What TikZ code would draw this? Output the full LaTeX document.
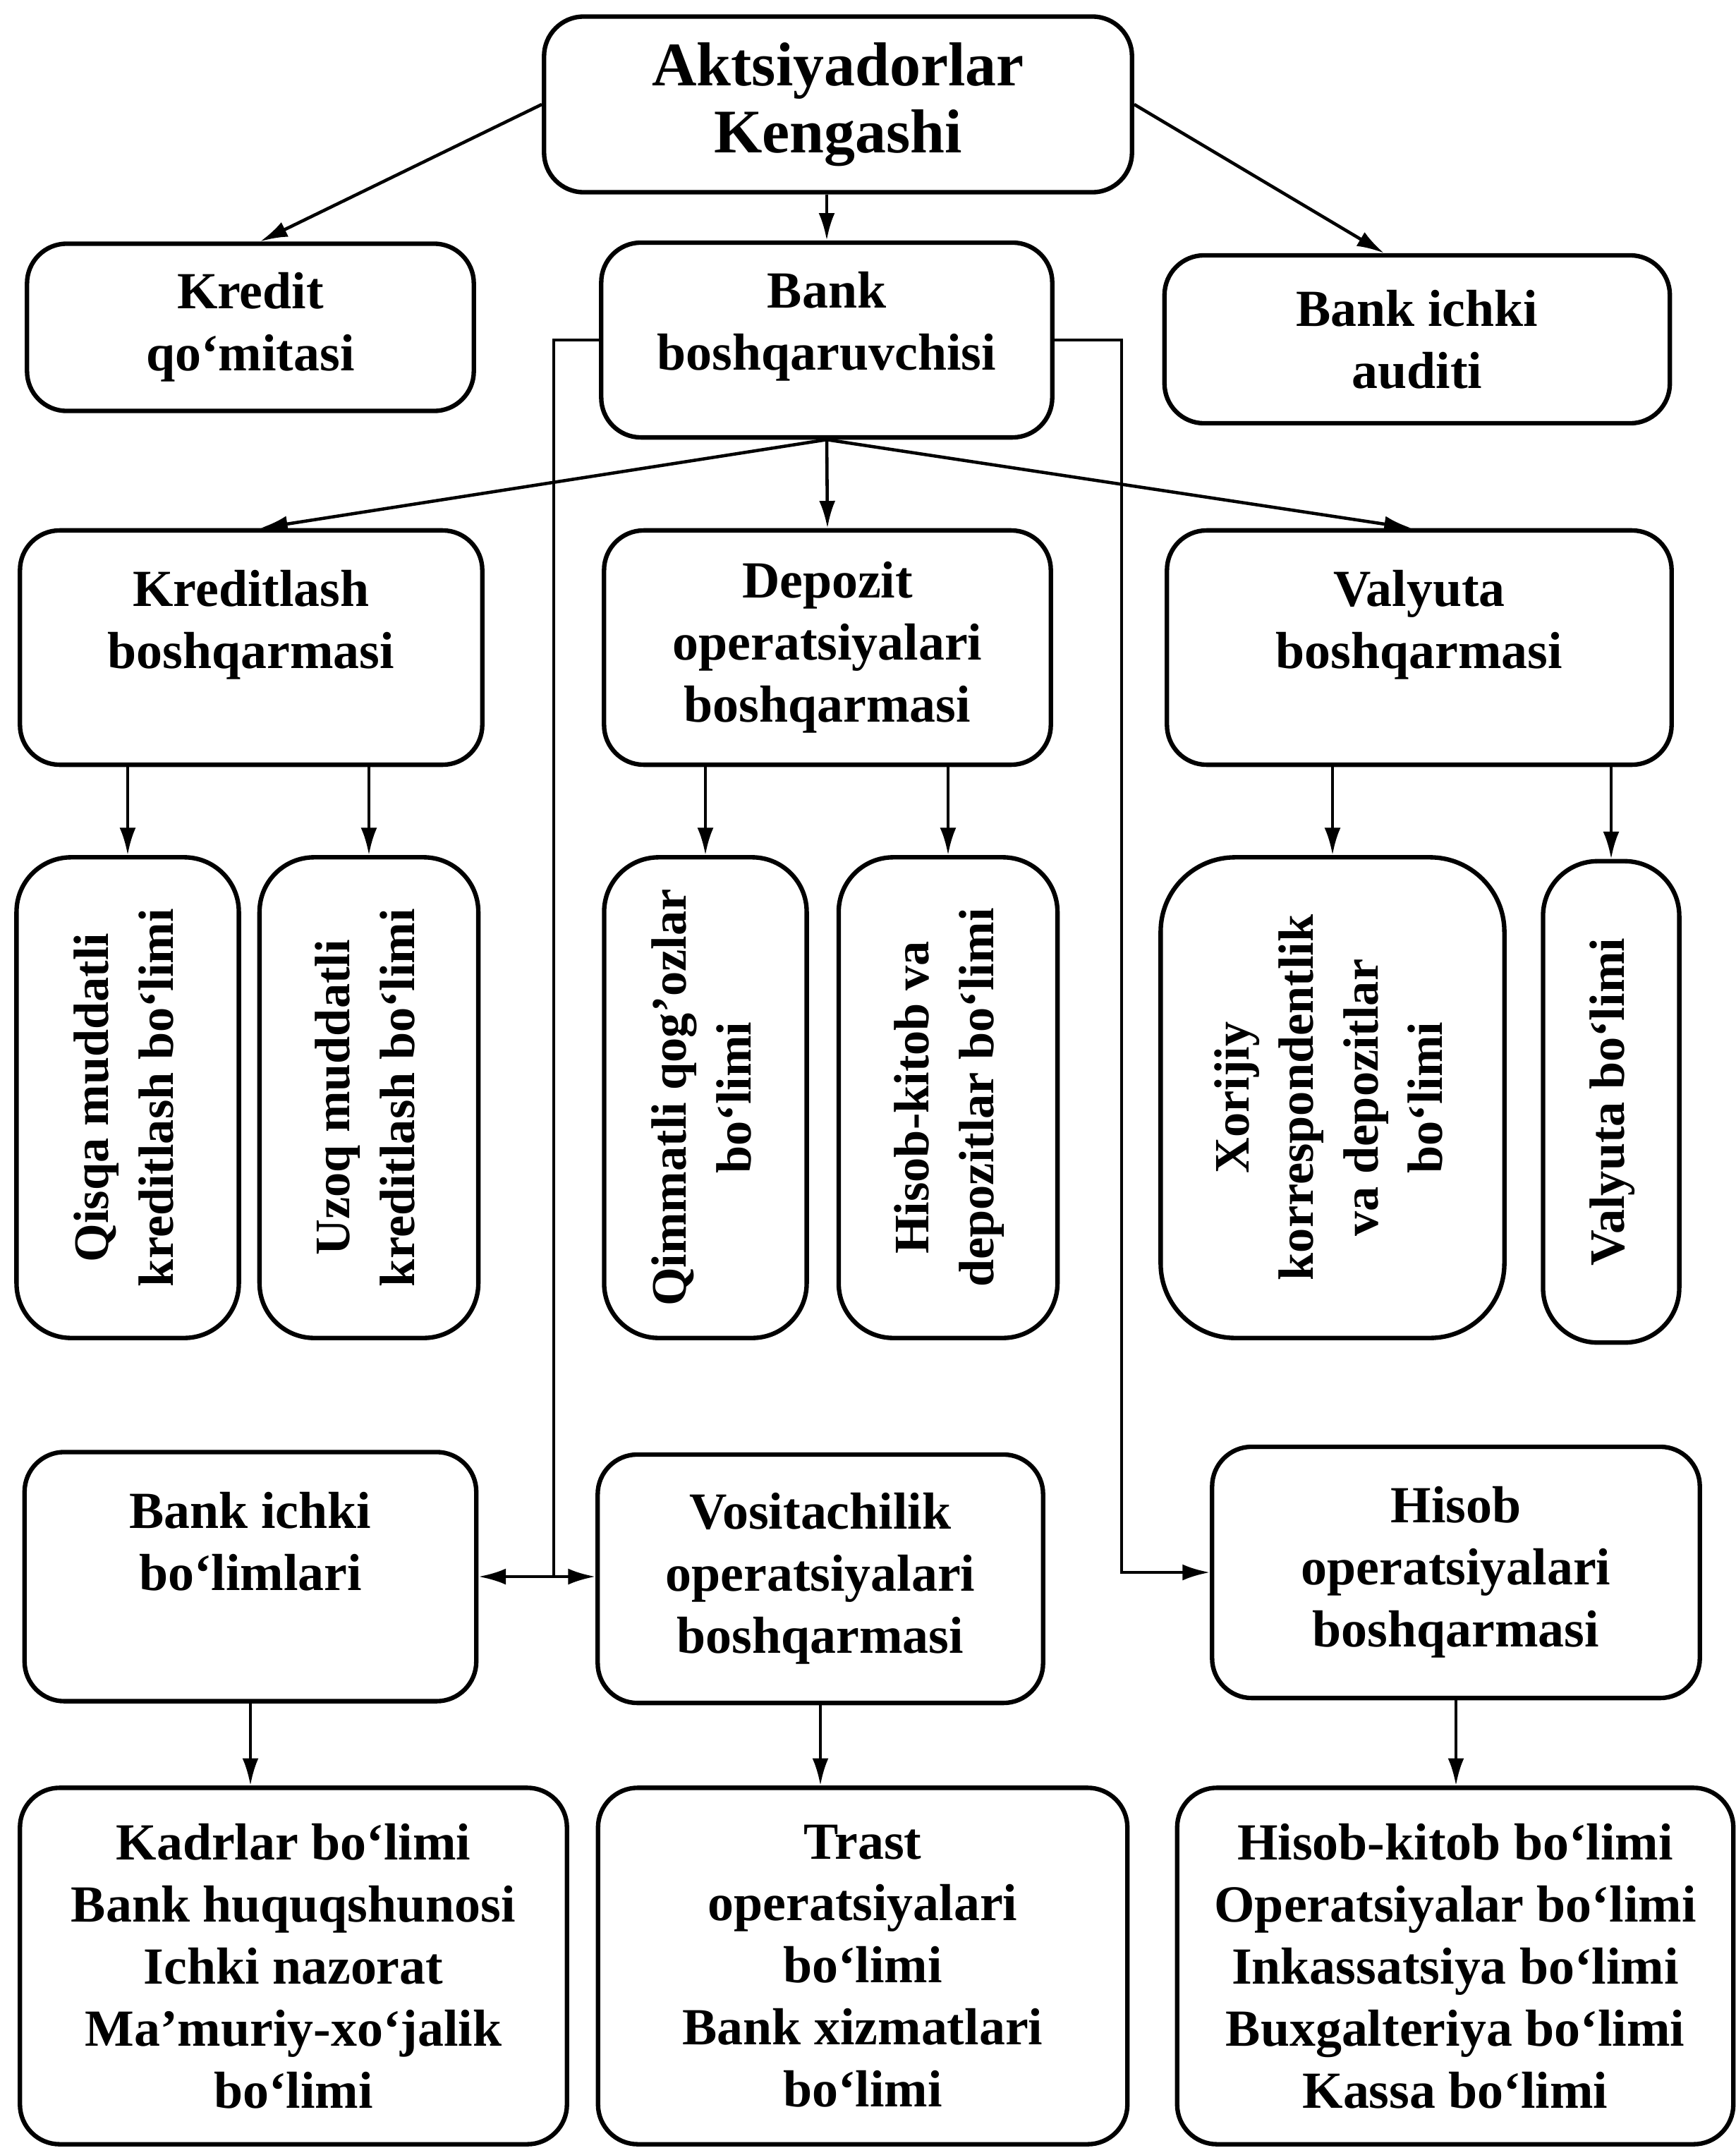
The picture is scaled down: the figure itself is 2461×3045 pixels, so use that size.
\documentclass[tikz,border=0pt]{standalone}
\usepackage{fontspec}
\setmainfont{Liberation Serif}
\usepackage{graphicx}
\usetikzlibrary{arrows.meta,calc}
\tikzset{
 unit/.style={draw,line width=1.8pt,rounded corners=16pt,align=center,inner sep=0,font=\bfseries\fontsize{21}{25}\selectfont},
 head/.style={unit,font=\bfseries\fontsize{25}{27}\selectfont},
 upright/.style={unit,rounded corners=22pt},
 link/.style={line width=1.3pt,-{Latex[length=11pt,width=6.5pt]}},
 twolink/.style={line width=1.3pt,{Latex[length=11pt,width=6.5pt]}-{Latex[length=11pt,width=6.5pt]}},
 joint/.style={line width=1.3pt}
}
\newcommand{\uptext}[1]{\rotatebox{90}{\fontsize{20}{26}\selectfont\begin{tabular}{@{}c@{}}#1\end{tabular}}}
\newcommand{\lifted}[2]{\raisebox{0pt}[\height][\dimexpr\depth+#1\relax]{\begin{tabular}{@{}c@{}}#2\end{tabular}}}

\begin{document}
\begin{tikzpicture}[x=0.01cm,y=-0.01cm]
\path[use as bounding box] (0,0) rectangle (2461,3045);
\node[head,minimum width=8.33cm,minimum height=2.49cm] (council) at (1188,148) {Aktsiyadorlar\\Kengashi};
\node[unit,minimum width=6.33cm,minimum height=2.37cm] (committee) at (355,464) {Kredit\\qo‘mitasi};
\node[unit,minimum width=6.39cm,minimum height=2.76cm] (manager) at (1172,482) {\lifted{11pt}{Bank\\boshqaruvchisi}};
\node[unit,minimum width=7.16cm,minimum height=2.38cm] (audit) at (2009,481) {Bank ichki\\auditi};
\node[unit,minimum width=6.55cm,minimum height=3.32cm] (credit) at (356,918) {\lifted{18pt}{Kreditlash\\boshqarmasi}};
\node[unit,minimum width=6.33cm,minimum height=3.32cm] (deposit) at (1173,918) {Depozit\\operatsiyalari\\boshqarmasi};
\node[unit,minimum width=7.15cm,minimum height=3.32cm] (currency) at (2012,918) {\lifted{18pt}{Valyuta\\boshqarmasi}};
\node[upright,minimum width=3.15cm,minimum height=6.81cm] (short) at (181,1556) {\uptext{Qisqa muddatli\\kreditlash bo‘limi}};
\node[upright,minimum width=3.10cm,minimum height=6.81cm] (long) at (523,1556) {\uptext{Uzoq muddatli\\kreditlash bo‘limi}};
\node[upright,minimum width=2.87cm,minimum height=6.81cm] (papers) at (1000,1556) {\uptext{Qimmatli qog’ozlar\\bo‘limi}};
\node[upright,minimum width=3.10cm,minimum height=6.81cm] (accounts) at (1344,1556) {\uptext{Hisob-kitob va\\depozitlar bo‘limi}};
\node[upright,minimum width=4.87cm,minimum height=6.81cm,rounded corners=30pt] (foreign) at (1889,1556) {\uptext{Xorijiy\\korrespondentlik\\va depozitlar\\bo‘limi}};
\node[upright,minimum width=1.93cm,minimum height=6.82cm] (cash) at (2284,1562) {\uptext{Valyuta bo‘limi}};
\node[unit,minimum width=6.40cm,minimum height=3.53cm] (inner) at (355,2235) {\lifted{24pt}{Bank ichki\\bo‘limlari}};
\node[unit,minimum width=6.31cm,minimum height=3.52cm] (broker) at (1163,2238) {Vositachilik\\operatsiyalari\\boshqarmasi};
\node[unit,minimum width=6.91cm,minimum height=3.56cm] (ledger) at (2064,2229) {Hisob\\operatsiyalari\\boshqarmasi};
\node[unit,minimum width=7.75cm,minimum height=5.05cm] (staff) at (416,2787) {Kadrlar bo‘limi\\Bank huquqshunosi\\Ichki nazorat\\Ma’muriy-xo‘jalik\\bo‘limi};
\node[unit,minimum width=7.50cm,minimum height=5.05cm] (trust) at (1223,2787) {Trast\\operatsiyalari\\bo‘limi\\Bank xizmatlari\\bo‘limi};
\node[unit,minimum width=7.88cm,minimum height=5.05cm] (books) at (2063,2787) {Hisob-kitob bo‘limi\\Operatsiyalar bo‘limi\\Inkassatsiya bo‘limi\\Buxgalteriya bo‘limi\\Kassa bo‘limi};
\coordinate (leftrun) at (785,0);
\coordinate (rightrun) at (1590,0);
\draw[link] (council.west) -- ($(committee.north)+(14,0)$);
\draw[link] (manager.north |- council.south) -- (manager.north);
\draw[link] (council.east) -- ($(audit.north)+(-47,0)$);
\draw[link] (manager.south) -- ($(credit.north)+(13,0)$);
\draw[link] (manager.south) -- (deposit.north);
\draw[link] (manager.south) -- ($(currency.north)+(-11,0)$);
\draw[link] (short.north |- credit.south) -- (short.north);
\draw[link] (long.north |- credit.south) -- (long.north);
\draw[link] (papers.north |- deposit.south) -- (papers.north);
\draw[link] (accounts.north |- deposit.south) -- (accounts.north);
\draw[link] (foreign.north |- currency.south) -- (foreign.north);
\draw[link] (cash.north |- currency.south) -- (cash.north);
\draw[joint] (manager.west) -| (leftrun |- inner.east);
\draw[twolink] (inner.east) -- (broker.west |- inner.east);
\draw[link] (manager.east) -| (rightrun |- ledger.west) -- (ledger.west);
\draw[link] (inner.south) -- (inner.south |- staff.north);
\draw[link] (broker.south) -- (broker.south |- trust.north);
\draw[link] (ledger.south) -- (ledger.south |- books.north);
\end{tikzpicture}
\end{document}
